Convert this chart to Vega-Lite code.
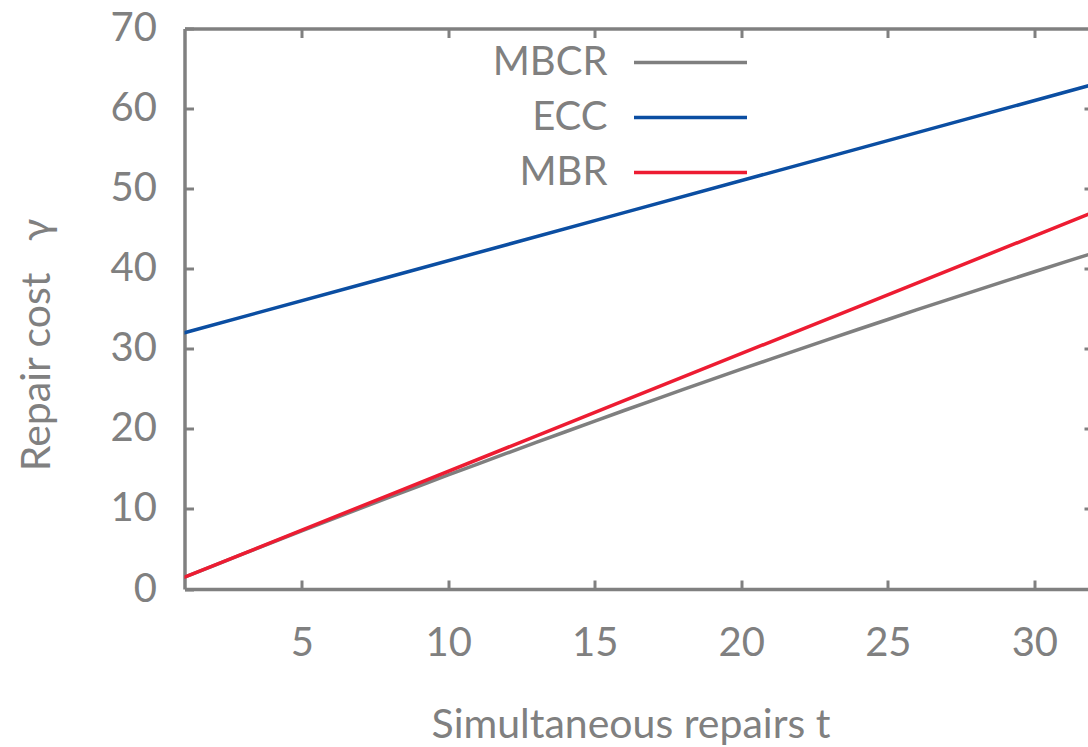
{
  "$schema": "https://vega.github.io/schema/vega-lite/v6.json",
  "autosize": "none",
  "width": 903.5,
  "height": 560.5,
  "padding": {"left": 184.5, "top": 28.5, "right": 0, "bottom": 158},
  "background": "white",
  "config": {
    "view": {"stroke": null},
    "font": "Lato",
    "axis": {
      "domainColor": "#808080",
      "domainWidth": 3.5,
      "tickColor": "#808080",
      "tickWidth": 3,
      "tickSize": -9,
      "labelColor": "#808080",
      "labelFont": "Lato",
      "labelFontSize": 40,
      "titleColor": "#808080",
      "titleFont": "Lato",
      "titleFontSize": 41,
      "titleFontWeight": "normal",
      "grid": false
    }
  },
  "data": {
    "values": [
      {"t": 1, "series": "MBCR", "cost": 1.47},
      {"t": 2, "series": "MBCR", "cost": 2.93},
      {"t": 3, "series": "MBCR", "cost": 4.38},
      {"t": 4, "series": "MBCR", "cost": 5.82},
      {"t": 5, "series": "MBCR", "cost": 7.25},
      {"t": 6, "series": "MBCR", "cost": 8.67},
      {"t": 7, "series": "MBCR", "cost": 10.07},
      {"t": 8, "series": "MBCR", "cost": 11.47},
      {"t": 9, "series": "MBCR", "cost": 12.86},
      {"t": 10, "series": "MBCR", "cost": 14.24},
      {"t": 11, "series": "MBCR", "cost": 15.6},
      {"t": 12, "series": "MBCR", "cost": 16.96},
      {"t": 13, "series": "MBCR", "cost": 18.31},
      {"t": 14, "series": "MBCR", "cost": 19.64},
      {"t": 15, "series": "MBCR", "cost": 20.97},
      {"t": 16, "series": "MBCR", "cost": 22.29},
      {"t": 17, "series": "MBCR", "cost": 23.59},
      {"t": 18, "series": "MBCR", "cost": 24.89},
      {"t": 19, "series": "MBCR", "cost": 26.17},
      {"t": 20, "series": "MBCR", "cost": 27.45},
      {"t": 21, "series": "MBCR", "cost": 28.71},
      {"t": 22, "series": "MBCR", "cost": 29.96},
      {"t": 23, "series": "MBCR", "cost": 31.21},
      {"t": 24, "series": "MBCR", "cost": 32.44},
      {"t": 25, "series": "MBCR", "cost": 33.66},
      {"t": 26, "series": "MBCR", "cost": 34.88},
      {"t": 27, "series": "MBCR", "cost": 36.08},
      {"t": 28, "series": "MBCR", "cost": 37.27},
      {"t": 29, "series": "MBCR", "cost": 38.45},
      {"t": 30, "series": "MBCR", "cost": 39.62},
      {"t": 31, "series": "MBCR", "cost": 40.79},
      {"t": 32, "series": "MBCR", "cost": 41.94},
      {"t": 1, "series": "ECC", "cost": 32},
      {"t": 8, "series": "ECC", "cost": 39},
      {"t": 16, "series": "ECC", "cost": 47},
      {"t": 24, "series": "ECC", "cost": 55},
      {"t": 32, "series": "ECC", "cost": 63},
      {"t": 1, "series": "MBR", "cost": 1.47},
      {"t": 8, "series": "MBR", "cost": 11.76},
      {"t": 16, "series": "MBR", "cost": 23.52},
      {"t": 24, "series": "MBR", "cost": 35.28},
      {"t": 32, "series": "MBR", "cost": 47.04}
    ]
  },
  "layer": [
    {
      "mark": {"type": "line", "strokeWidth": 3.5, "clip": true, "strokeCap": "round"},
      "encoding": {
        "x": {
          "field": "t", "type": "quantitative",
          "scale": {"domain": [1, 31.83], "nice": false, "zero": false},
          "axis": {"orient": "bottom", "values": [5, 10, 15, 20, 25, 30], "labelPadding": 43, "title": "Simultaneous repairs t", "titleBaseline": "alphabetic", "titleY": 148, "titleX": 446, "titleAlign": "center"}
        },
        "y": {
          "field": "cost", "type": "quantitative",
          "scale": {"domain": [0, 70], "nice": false, "zero": true},
          "axis": {"orient": "left", "values": [0, 10, 20, 30, 40, 50, 60, 70], "labelPadding": 37, "title": "Repair cost\u00a0\u00a0\u00a0γ", "titleBaseline": "alphabetic", "titleX": -135, "titleY": 316, "titleAlign": "center", "titleAngle": 270}
        },
        "color": {
          "field": "series", "type": "nominal",
          "scale": {"domain": ["MBCR", "ECC", "MBR"], "range": ["#7f7f7f", "#0b4ea2", "#ed1c32"]},
          "sort": null,
          "legend": {
            "orient": "none", "legendX": 486, "legendY": 14, "title": null,
            "symbolType": "M-4,0H4", "symbolSize": 798, "symbolStrokeWidth": 3.5,
            "symbolFillColor": "transparent",
            "labelAlign": "right", "labelOffset": -103, "labelFontSize": 40, "labelFont": "Lato",
            "labelColor": "#808080", "rowPadding": 15, "padding": 0
          }
        }
      }
    },
    {
      "mark": {"type": "line", "strokeOpacity": 0},
      "encoding": {
        "x": {
          "field": "t", "type": "quantitative",
          "axis": {"orient": "top", "values": [5, 10, 15, 20, 25, 30], "labels": false, "title": null}
        },
        "y": {
          "field": "cost", "type": "quantitative",
          "axis": {"orient": "right", "values": [10, 20, 30, 40, 50, 60], "labels": false, "title": null, "domain": false, "tickSize": -4}
        },
        "detail": {"field": "series"}
      }
    }
  ],
  "resolve": {"axis": {"x": "independent", "y": "independent"}}
}
